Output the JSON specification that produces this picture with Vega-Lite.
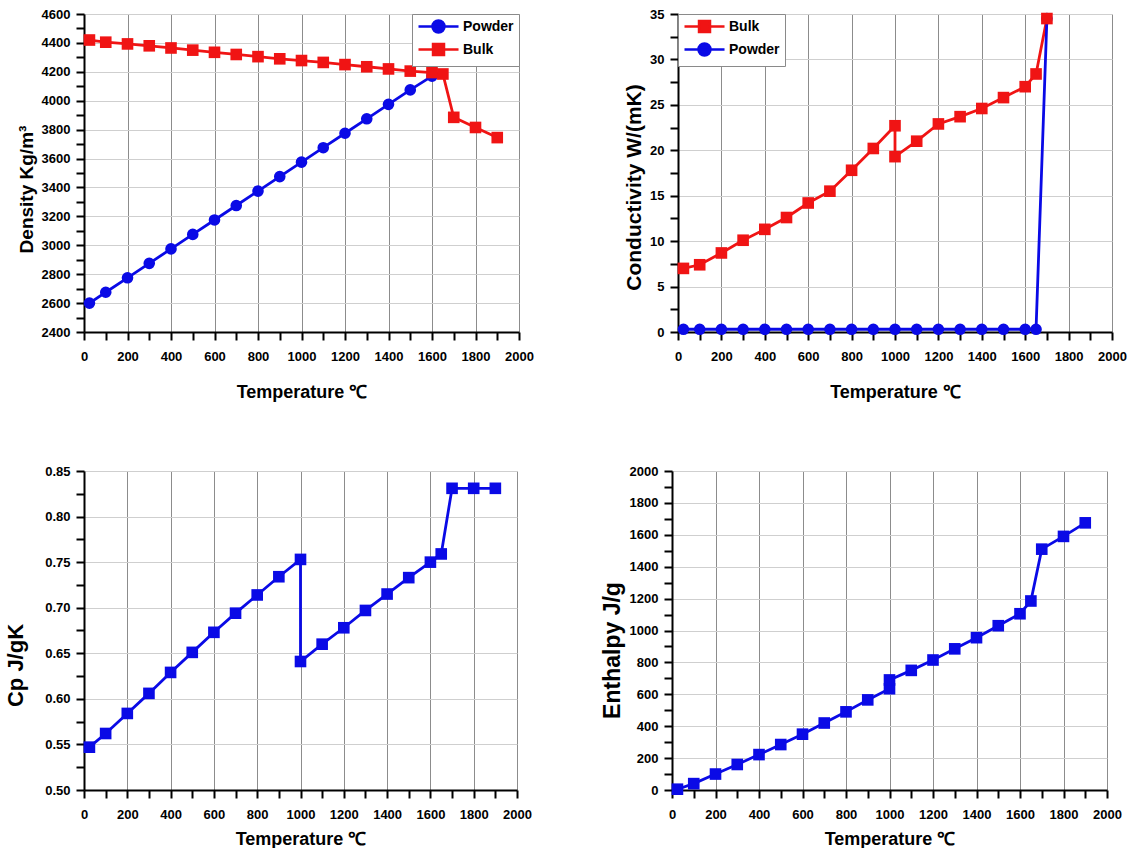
{
  "$schema": "https://vega.github.io/schema/vega-lite/v6.json",
  "background": "white",
  "padding": {"left": 4, "top": 8, "right": 0, "bottom": 0},
  "spacing": 64,
  "config": {
    "font": "Liberation Sans",
    "view": {"stroke": null},
    "axis": {
      "domainColor": "black",
      "domainWidth": 2,
      "tickColor": "black",
      "tickWidth": 2,
      "tickSize": 8,
      "labelFont": "Liberation Sans",
      "labelFontWeight": "bold",
      "labelFontSize": 13,
      "labelColor": "black",
      "labelOverlap": false,
      "labelFlush": false,
      "titleFont": "Liberation Sans",
      "titleFontWeight": "bold",
      "titleColor": "black"
    },
    "axisX": {"gridColor": "#8c8c8c", "gridWidth": 1, "titlePadding": 20, "labelPadding": 10, "titleFontSize": 18},
    "axisY": {"gridColor": "#cfcfcf", "gridWidth": 1, "titlePadding": 5, "labelPadding": 6, "titleFontSize": 20},
    "legend": {
      "title": null,
      "labelFont": "Liberation Sans",
      "labelFontWeight": "bold",
      "labelFontSize": 14,
      "labelColor": "black",
      "fillColor": "white",
      "strokeColor": "#8a8a8a",
      "padding": 5,
      "offset": 0,
      "rowPadding": 0,
      "symbolSize": 144,
      "labelOffset": 31
    }
  },
  "vconcat": [
    {
      "spacing": 89,
      "hconcat": [
        {
          "width": 435,
          "height": 318,
          "data": {"values": [
            {"i": 0, "T": 25, "rho": 2600, "series": "Powder"},
            {"i": 1, "T": 100, "rho": 2675, "series": "Powder"},
            {"i": 2, "T": 200, "rho": 2775, "series": "Powder"},
            {"i": 3, "T": 300, "rho": 2875, "series": "Powder"},
            {"i": 4, "T": 400, "rho": 2975, "series": "Powder"},
            {"i": 5, "T": 500, "rho": 3075, "series": "Powder"},
            {"i": 6, "T": 600, "rho": 3175, "series": "Powder"},
            {"i": 7, "T": 700, "rho": 3275, "series": "Powder"},
            {"i": 8, "T": 800, "rho": 3375, "series": "Powder"},
            {"i": 9, "T": 900, "rho": 3475, "series": "Powder"},
            {"i": 10, "T": 1000, "rho": 3575, "series": "Powder"},
            {"i": 11, "T": 1100, "rho": 3675, "series": "Powder"},
            {"i": 12, "T": 1200, "rho": 3775, "series": "Powder"},
            {"i": 13, "T": 1300, "rho": 3875, "series": "Powder"},
            {"i": 14, "T": 1400, "rho": 3975, "series": "Powder"},
            {"i": 15, "T": 1500, "rho": 4075, "series": "Powder"},
            {"i": 16, "T": 1600, "rho": 4170, "series": "Powder"},
            {"i": 0, "T": 25, "rho": 4420, "series": "Bulk"},
            {"i": 1, "T": 100, "rho": 4405, "series": "Bulk"},
            {"i": 2, "T": 200, "rho": 4393, "series": "Bulk"},
            {"i": 3, "T": 300, "rho": 4380, "series": "Bulk"},
            {"i": 4, "T": 400, "rho": 4365, "series": "Bulk"},
            {"i": 5, "T": 500, "rho": 4350, "series": "Bulk"},
            {"i": 6, "T": 600, "rho": 4335, "series": "Bulk"},
            {"i": 7, "T": 700, "rho": 4320, "series": "Bulk"},
            {"i": 8, "T": 800, "rho": 4305, "series": "Bulk"},
            {"i": 9, "T": 900, "rho": 4290, "series": "Bulk"},
            {"i": 10, "T": 1000, "rho": 4278, "series": "Bulk"},
            {"i": 11, "T": 1100, "rho": 4265, "series": "Bulk"},
            {"i": 12, "T": 1200, "rho": 4250, "series": "Bulk"},
            {"i": 13, "T": 1300, "rho": 4235, "series": "Bulk"},
            {"i": 14, "T": 1400, "rho": 4220, "series": "Bulk"},
            {"i": 15, "T": 1500, "rho": 4205, "series": "Bulk"},
            {"i": 16, "T": 1600, "rho": 4195, "series": "Bulk"},
            {"i": 17, "T": 1650, "rho": 4185, "series": "Bulk"},
            {"i": 18, "T": 1700, "rho": 3885, "series": "Bulk"},
            {"i": 19, "T": 1800, "rho": 3815, "series": "Bulk"},
            {"i": 20, "T": 1900, "rho": 3745, "series": "Bulk"}
          ]},
          "encoding": {
            "x": {
              "field": "T", "type": "quantitative",
              "scale": {"domain": [0, 2000], "nice": false},
              "axis": {
                "title": "Temperature ℃",
                "format": "d",
                "values": [0,100,200,300,400,500,600,700,800,900,1000,1100,1200,1300,1400,1500,1600,1700,1800,1900,2000],
                "labelExpr": "datum.value % 200 ? '' : datum.label",
                "gridOpacity": {"condition": {"test": "datum.value % 200 !== 0", "value": 0}, "value": 1},
                "encode": {"ticks": {"update": {"y2": {"signal": "datum.value % 200 ? -5 : 8"}}}}
              }
            },
            "y": {
              "field": "rho", "type": "quantitative",
              "scale": {"domain": [2400, 4600], "nice": false, "zero": false},
              "axis": {
                "title": "Density Kg/m³",
                "titleFontSize": 19,
                "titleY": 175,
                "format": "d",
                "values": [2400,2500,2600,2700,2800,2900,3000,3100,3200,3300,3400,3500,3600,3700,3800,3900,4000,4100,4200,4300,4400,4500,4600],
                "labelExpr": "datum.value % 200 ? '' : datum.label",
                "gridOpacity": {"condition": {"test": "datum.value % 200 !== 0", "value": 0}, "value": 1},
                "encode": {"ticks": {"update": {"x2": {"signal": "datum.value % 200 ? 5 : -8"}}}}
              }
            },
            "color": {
              "field": "series", "type": "nominal",
              "scale": {"domain": ["Powder", "Bulk"], "range": ["#0a0ae6", "#f01414"]},
              "legend": {
                "orient": "top-right",
                "values": ["Powder", "Bulk"],
                "encode": {"symbols": {"update": {
                  "shape": {"signal": "datum.value === 'Powder' ? 'M-1,0H5.67M3.33,0A1,1,0,1,1,1.33,0A1,1,0,1,1,3.33,0Z' : 'M-1,0H5.67M1.42,-0.92H3.25V0.92H1.42Z'"},
                  "fill": {"signal": "datum.value === 'Powder' ? '#0a0ae6' : '#f01414'"},
                  "stroke": {"signal": "datum.value === 'Powder' ? '#0a0ae6' : '#f01414'"},
                  "strokeWidth": {"value": 2.5},
                  "opacity": {"value": 1}
                }}}
              }
            },
            "order": {"field": "i", "type": "quantitative"}
          },
          "layer": [
            {"mark": {"type": "line", "strokeWidth": 2.8}},
            {
              "mark": {"type": "point", "filled": true, "opacity": 1, "size": 135},
              "encoding": {
                "shape": {
                  "field": "series", "type": "nominal",
                  "scale": {"domain": ["Powder", "Bulk"], "range": ["circle", "square"]},
                  "legend": null
                }
              }
            }
          ]
        },
        {
          "width": 434,
          "height": 318,
          "data": {"values": [
            {"i": 0, "T": 25, "k": 7.0, "series": "Bulk"},
            {"i": 1, "T": 100, "k": 7.4, "series": "Bulk"},
            {"i": 2, "T": 200, "k": 8.7, "series": "Bulk"},
            {"i": 3, "T": 300, "k": 10.1, "series": "Bulk"},
            {"i": 4, "T": 400, "k": 11.3, "series": "Bulk"},
            {"i": 5, "T": 500, "k": 12.6, "series": "Bulk"},
            {"i": 6, "T": 600, "k": 14.2, "series": "Bulk"},
            {"i": 7, "T": 700, "k": 15.5, "series": "Bulk"},
            {"i": 8, "T": 800, "k": 17.8, "series": "Bulk"},
            {"i": 9, "T": 900, "k": 20.2, "series": "Bulk"},
            {"i": 10, "T": 1000, "k": 22.7, "series": "Bulk"},
            {"i": 11, "T": 1000, "k": 19.3, "series": "Bulk"},
            {"i": 12, "T": 1100, "k": 21.0, "series": "Bulk"},
            {"i": 13, "T": 1200, "k": 22.9, "series": "Bulk"},
            {"i": 14, "T": 1300, "k": 23.7, "series": "Bulk"},
            {"i": 15, "T": 1400, "k": 24.6, "series": "Bulk"},
            {"i": 16, "T": 1500, "k": 25.8, "series": "Bulk"},
            {"i": 17, "T": 1600, "k": 27.0, "series": "Bulk"},
            {"i": 18, "T": 1650, "k": 28.4, "series": "Bulk"},
            {"i": 19, "T": 1700, "k": 34.5, "series": "Bulk"},
            {"i": 0, "T": 25, "k": 0.3, "series": "Powder"},
            {"i": 1, "T": 100, "k": 0.3, "series": "Powder"},
            {"i": 2, "T": 200, "k": 0.3, "series": "Powder"},
            {"i": 3, "T": 300, "k": 0.3, "series": "Powder"},
            {"i": 4, "T": 400, "k": 0.3, "series": "Powder"},
            {"i": 5, "T": 500, "k": 0.3, "series": "Powder"},
            {"i": 6, "T": 600, "k": 0.3, "series": "Powder"},
            {"i": 7, "T": 700, "k": 0.3, "series": "Powder"},
            {"i": 8, "T": 800, "k": 0.3, "series": "Powder"},
            {"i": 9, "T": 900, "k": 0.3, "series": "Powder"},
            {"i": 10, "T": 1000, "k": 0.3, "series": "Powder"},
            {"i": 11, "T": 1100, "k": 0.3, "series": "Powder"},
            {"i": 12, "T": 1200, "k": 0.3, "series": "Powder"},
            {"i": 13, "T": 1300, "k": 0.3, "series": "Powder"},
            {"i": 14, "T": 1400, "k": 0.3, "series": "Powder"},
            {"i": 15, "T": 1500, "k": 0.3, "series": "Powder"},
            {"i": 16, "T": 1600, "k": 0.3, "series": "Powder"},
            {"i": 17, "T": 1650, "k": 0.3, "series": "Powder"},
            {"i": 18, "T": 1700, "k": 34.5, "series": "Powder"}
          ]},
          "encoding": {
            "x": {
              "field": "T", "type": "quantitative",
              "scale": {"domain": [0, 2000], "nice": false},
              "axis": {
                "title": "Temperature ℃",
                "format": "d",
                "values": [0,100,200,300,400,500,600,700,800,900,1000,1100,1200,1300,1400,1500,1600,1700,1800,1900,2000],
                "labelExpr": "datum.value % 200 ? '' : datum.label",
                "gridOpacity": {"condition": {"test": "datum.value % 200 !== 0", "value": 0}, "value": 1},
                "encode": {"ticks": {"update": {"y2": {"signal": "datum.value % 200 ? -5 : 8"}}}}
              }
            },
            "y": {
              "field": "k", "type": "quantitative",
              "scale": {"domain": [0, 35], "nice": false},
              "axis": {
                "title": "Conductivity W/(mK)",
                "titleFontSize": 21,
                "titleY": 173,
                "values": [0,2.5,5,7.5,10,12.5,15,17.5,20,22.5,25,27.5,30,32.5,35],
                "labelExpr": "datum.value % 5 ? '' : datum.label",
                "gridOpacity": {"condition": {"test": "datum.value % 5 !== 0", "value": 0}, "value": 1},
                "encode": {"ticks": {"update": {"x2": {"signal": "datum.value % 5 ? 5 : -8"}}}}
              }
            },
            "color": {
              "field": "series", "type": "nominal",
              "scale": {"domain": ["Bulk", "Powder"], "range": ["#f01414", "#0a0ae6"]},
              "legend": {
                "orient": "top-left",
                "values": ["Bulk", "Powder"],
                "encode": {"symbols": {"update": {
                  "shape": {"signal": "datum.value === 'Powder' ? 'M-1,0H5.67M3.33,0A1,1,0,1,1,1.33,0A1,1,0,1,1,3.33,0Z' : 'M-1,0H5.67M1.42,-0.92H3.25V0.92H1.42Z'"},
                  "fill": {"signal": "datum.value === 'Powder' ? '#0a0ae6' : '#f01414'"},
                  "stroke": {"signal": "datum.value === 'Powder' ? '#0a0ae6' : '#f01414'"},
                  "strokeWidth": {"value": 2.5},
                  "opacity": {"value": 1}
                }}}
              }
            },
            "order": {"field": "i", "type": "quantitative"}
          },
          "layer": [
            {"mark": {"type": "line", "strokeWidth": 2.8}},
            {
              "mark": {"type": "point", "filled": true, "opacity": 1, "size": 135},
              "encoding": {
                "shape": {
                  "field": "series", "type": "nominal",
                  "scale": {"domain": ["Bulk", "Powder"], "range": ["square", "circle"]},
                  "legend": null
                }
              }
            }
          ]
        }
      ]
    },
    {
      "spacing": 69,
      "hconcat": [
        {
          "width": 433,
          "height": 319,
          "data": {"values": [
            {"i": 0, "T": 25, "cp": 0.547},
            {"i": 1, "T": 100, "cp": 0.562},
            {"i": 2, "T": 200, "cp": 0.584},
            {"i": 3, "T": 300, "cp": 0.606},
            {"i": 4, "T": 400, "cp": 0.629},
            {"i": 5, "T": 500, "cp": 0.651},
            {"i": 6, "T": 600, "cp": 0.673},
            {"i": 7, "T": 700, "cp": 0.694},
            {"i": 8, "T": 800, "cp": 0.714},
            {"i": 9, "T": 900, "cp": 0.734},
            {"i": 10, "T": 1000, "cp": 0.753},
            {"i": 11, "T": 1000, "cp": 0.641},
            {"i": 12, "T": 1100, "cp": 0.660},
            {"i": 13, "T": 1200, "cp": 0.678},
            {"i": 14, "T": 1300, "cp": 0.697},
            {"i": 15, "T": 1400, "cp": 0.715},
            {"i": 16, "T": 1500, "cp": 0.733},
            {"i": 17, "T": 1600, "cp": 0.750},
            {"i": 18, "T": 1650, "cp": 0.759},
            {"i": 19, "T": 1700, "cp": 0.831},
            {"i": 20, "T": 1800, "cp": 0.831},
            {"i": 21, "T": 1900, "cp": 0.831}
          ]},
          "encoding": {
            "x": {
              "field": "T", "type": "quantitative",
              "scale": {"domain": [0, 2000], "nice": false},
              "axis": {
                "title": "Temperature ℃",
                "titlePadding": 9,
                "format": "d",
                "values": [0,100,200,300,400,500,600,700,800,900,1000,1100,1200,1300,1400,1500,1600,1700,1800,1900,2000],
                "labelExpr": "datum.value % 200 ? '' : datum.label",
                "gridOpacity": {"condition": {"test": "datum.value % 200 !== 0", "value": 0}, "value": 1},
                "encode": {"ticks": {"update": {"y2": {"signal": "datum.value % 200 ? -5 : 8"}}}}
              }
            },
            "y": {
              "field": "cp", "type": "quantitative",
              "scale": {"domain": [0.5, 0.85], "nice": false, "zero": false},
              "axis": {
                "title": "Cp J/gK",
                "titleFontSize": 22,
                "titlePadding": 17,
                "titleY": 194,
                "format": ".2f",
                "values": [0.5,0.525,0.55,0.575,0.6,0.625,0.65,0.675,0.7,0.725,0.75,0.775,0.8,0.825,0.85],
                "labelExpr": "round(datum.value * 1000) % 50 ? '' : datum.label",
                "gridOpacity": {"condition": {"test": "round(datum.value * 1000) % 50 !== 0", "value": 0}, "value": 1},
                "encode": {"ticks": {"update": {"x2": {"signal": "round(datum.value * 1000) % 50 ? 5 : -8"}}}}
              }
            },
            "order": {"field": "i", "type": "quantitative"}
          },
          "layer": [
            {"mark": {"type": "line", "strokeWidth": 2.8, "color": "#0a0ae6"}},
            {"mark": {"type": "point", "shape": "square", "filled": true, "opacity": 1, "size": 135, "color": "#0a0ae6"}}
          ]
        },
        {
          "width": 435,
          "height": 319,
          "data": {"values": [
            {"i": 0, "T": 25, "h": 5},
            {"i": 1, "T": 100, "h": 40},
            {"i": 2, "T": 200, "h": 100},
            {"i": 3, "T": 300, "h": 160},
            {"i": 4, "T": 400, "h": 222},
            {"i": 5, "T": 500, "h": 285},
            {"i": 6, "T": 600, "h": 350},
            {"i": 7, "T": 700, "h": 420},
            {"i": 8, "T": 800, "h": 490},
            {"i": 9, "T": 900, "h": 565},
            {"i": 10, "T": 1000, "h": 635},
            {"i": 11, "T": 1000, "h": 690},
            {"i": 12, "T": 1100, "h": 750},
            {"i": 13, "T": 1200, "h": 815},
            {"i": 14, "T": 1300, "h": 885},
            {"i": 15, "T": 1400, "h": 955},
            {"i": 16, "T": 1500, "h": 1030},
            {"i": 17, "T": 1600, "h": 1105},
            {"i": 18, "T": 1650, "h": 1185},
            {"i": 19, "T": 1700, "h": 1510},
            {"i": 20, "T": 1800, "h": 1590},
            {"i": 21, "T": 1900, "h": 1675}
          ]},
          "encoding": {
            "x": {
              "field": "T", "type": "quantitative",
              "scale": {"domain": [0, 2000], "nice": false},
              "axis": {
                "title": "Temperature ℃",
                "titlePadding": 9,
                "format": "d",
                "values": [0,100,200,300,400,500,600,700,800,900,1000,1100,1200,1300,1400,1500,1600,1700,1800,1900,2000],
                "labelExpr": "datum.value % 200 ? '' : datum.label",
                "gridOpacity": {"condition": {"test": "datum.value % 200 !== 0", "value": 0}, "value": 1},
                "encode": {"ticks": {"update": {"y2": {"signal": "datum.value % 200 ? -5 : 8"}}}}
              }
            },
            "y": {
              "field": "h", "type": "quantitative",
              "scale": {"domain": [0, 2000], "nice": false},
              "axis": {
                "title": "Enthalpy J/g",
                "titleFontSize": 23,
                "titleY": 179,
                "format": "d",
                "values": [0,100,200,300,400,500,600,700,800,900,1000,1100,1200,1300,1400,1500,1600,1700,1800,1900,2000],
                "labelExpr": "datum.value % 200 ? '' : datum.label",
                "gridOpacity": {"condition": {"test": "datum.value % 200 !== 0", "value": 0}, "value": 1},
                "encode": {"ticks": {"update": {"x2": {"signal": "datum.value % 200 ? 5 : -8"}}}}
              }
            },
            "order": {"field": "i", "type": "quantitative"}
          },
          "layer": [
            {"mark": {"type": "line", "strokeWidth": 2.8, "color": "#0a0ae6"}},
            {"mark": {"type": "point", "shape": "square", "filled": true, "opacity": 1, "size": 135, "color": "#0a0ae6"}}
          ]
        }
      ]
    }
  ]
}
